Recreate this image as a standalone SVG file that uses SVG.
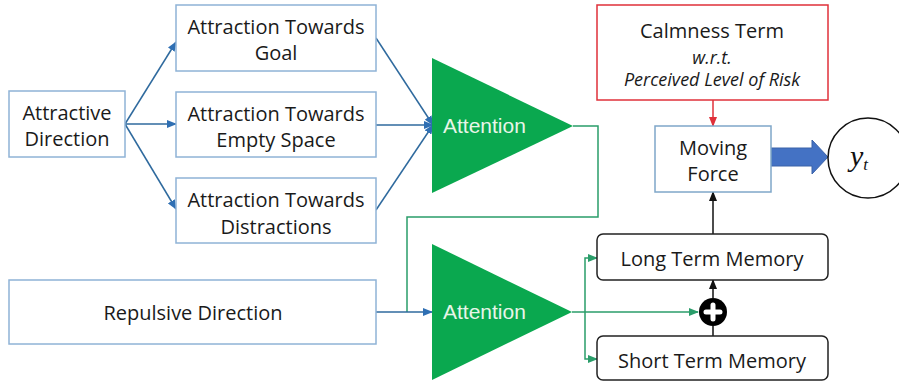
<svg xmlns="http://www.w3.org/2000/svg" width="899" height="381" viewBox="0 0 899 381">
<style>
.box{fill:#ffffff;stroke:#8fb3d6;stroke-width:1.5}
.mem{fill:#ffffff;stroke:#222;stroke-width:1.5}
.t{font-family:"Open Sans","Liberation Sans",sans-serif;font-size:20px;fill:#1a1a1a;text-anchor:middle;dominant-baseline:central}
.ti{font-family:"Open Sans","Liberation Sans",sans-serif;font-size:18px;font-style:italic;fill:#1a1a1a;text-anchor:middle;dominant-baseline:central}
.att{font-family:"Liberation Sans",Arial,sans-serif;font-size:21px;fill:#e8f5e8}
.tri{fill:#0aa84f}
.cb{fill:none;stroke:#2f6a9e;stroke-width:1.5}
.cg{fill:none;stroke:#2a9d6a;stroke-width:1.5}
.ck{fill:none;stroke:#111;stroke-width:1.5}
.cr{fill:none;stroke:#e0303a;stroke-width:1.5}
</style>
<defs>
<marker id="ab" markerWidth="10" markerHeight="8" refX="9" refY="4" orient="auto" markerUnits="userSpaceOnUse"><path d="M0,0 L10,4 L0,8 z" fill="#2f6fb3"/></marker>
<marker id="ag" markerWidth="10" markerHeight="8" refX="9" refY="4" orient="auto" markerUnits="userSpaceOnUse"><path d="M0,0 L10,4 L0,8 z" fill="#2a9d6a"/></marker>
<marker id="ak" markerWidth="10" markerHeight="8" refX="9" refY="4" orient="auto" markerUnits="userSpaceOnUse"><path d="M0,0 L10,4 L0,8 z" fill="#111"/></marker>
<marker id="ar" markerWidth="10" markerHeight="8" refX="9" refY="4" orient="auto" markerUnits="userSpaceOnUse"><path d="M0,0 L10,4 L0,8 z" fill="#e0303a"/></marker>
</defs>

<g id="connectors">
<line class="cb" x1="125" y1="124" x2="176" y2="42" marker-end="url(#ab)"/>
<line class="cb" x1="125" y1="124" x2="176" y2="124" marker-end="url(#ab)"/>
<line class="cb" x1="125" y1="124" x2="176" y2="209" marker-end="url(#ab)"/>
<line class="cb" x1="376" y1="38" x2="433" y2="125" marker-end="url(#ab)"/>
<line class="cb" x1="376" y1="125" x2="433" y2="125" marker-end="url(#ab)"/>
<line class="cb" x1="376" y1="210" x2="433" y2="125" marker-end="url(#ab)"/>
<path class="cg" d="M573,126 H598 V217 H407 V312"/>
<line class="cb" x1="376" y1="312" x2="432" y2="312" marker-end="url(#ab)"/>
<line class="cg" x1="572" y1="312" x2="698" y2="312" marker-end="url(#ag)"/>
<path class="cg" d="M585,312 V258 H597" marker-end="url(#ag)"/>
<path class="cg" d="M585,312 V359 H597" marker-end="url(#ag)"/>
<line class="ck" x1="713" y1="298" x2="713" y2="280" marker-end="url(#ak)"/>
<line class="ck" x1="713" y1="336" x2="713" y2="326"/>
<line class="ck" x1="713" y1="234" x2="713" y2="192" marker-end="url(#ak)"/>
<line class="cr" x1="713" y1="100" x2="713" y2="126" marker-end="url(#ar)"/>
<path d="M771,148 H812 V140 L828,157 L812,174 V166 H771 z" fill="#4472c4" stroke="#3a62a8" stroke-width="1"/>
</g>

<g id="attractive-direction">
<rect class="box" x="9" y="91" width="116" height="66"/>
<text class="t" x="67" y="112">Attractive</text>
<text class="t" x="67" y="138">Direction</text>
</g>
<g id="attraction-goal">
<rect class="box" x="176" y="5" width="200" height="66"/>
<text class="t" x="276" y="26">Attraction Towards</text>
<text class="t" x="276" y="52">Goal</text>
</g>
<g id="attraction-empty">
<rect class="box" x="176" y="92" width="200" height="65"/>
<text class="t" x="276" y="113">Attraction Towards</text>
<text class="t" x="276" y="139">Empty Space</text>
</g>
<g id="attraction-distractions">
<rect class="box" x="176" y="178" width="200" height="65"/>
<text class="t" x="276" y="199">Attraction Towards</text>
<text class="t" x="276" y="226">Distractions</text>
</g>
<g id="repulsive-direction">
<rect class="box" x="9" y="280" width="367" height="64"/>
<text class="t" x="193" y="312">Repulsive Direction</text>
</g>
<g id="attention-1">
<polygon class="tri" points="432,58 573,126 432,193"/>
<text class="att" x="443" y="133">Attention</text>
</g>
<g id="attention-2">
<polygon class="tri" points="432,244 572,312 432,380"/>
<text class="att" x="443" y="319">Attention</text>
</g>
<g id="calmness-term">
<rect x="597" y="5" width="231" height="95" fill="#ffffff" stroke="#e0303a" stroke-width="1.5"/>
<text class="t" x="712" y="30">Calmness Term</text>
<text class="ti" x="712" y="57">w.r.t.</text>
<text class="ti" x="712" y="79">Perceived Level of Risk</text>
</g>
<g id="moving-force">
<rect x="655" y="126" width="116" height="66" fill="#ffffff" stroke="#7fa7c9" stroke-width="1.5"/>
<text class="t" x="713" y="147">Moving</text>
<text class="t" x="713" y="173">Force</text>
</g>
<g id="output-yt">
<circle cx="868" cy="158" r="40" fill="#ffffff" stroke="#111" stroke-width="1.5"/>
<text x="850" y="166" font-family="Liberation Serif,serif" font-style="italic" font-size="30" fill="#111">y<tspan font-size="17" dy="4">t</tspan></text>
</g>
<g id="long-term-memory">
<rect class="mem" x="597" y="234" width="231" height="46" rx="6"/>
<text class="t" x="712" y="258">Long Term Memory</text>
</g>
<g id="short-term-memory">
<rect class="mem" x="597" y="336" width="231" height="44" rx="6"/>
<text class="t" x="712" y="360">Short Term Memory</text>
</g>
<g id="sum">
<circle cx="713" cy="312" r="14" fill="#000"/>
<path d="M706,312 H720 M713,305 V319" stroke="#fff" stroke-width="5" stroke-linecap="round"/>
</g>
</svg>
